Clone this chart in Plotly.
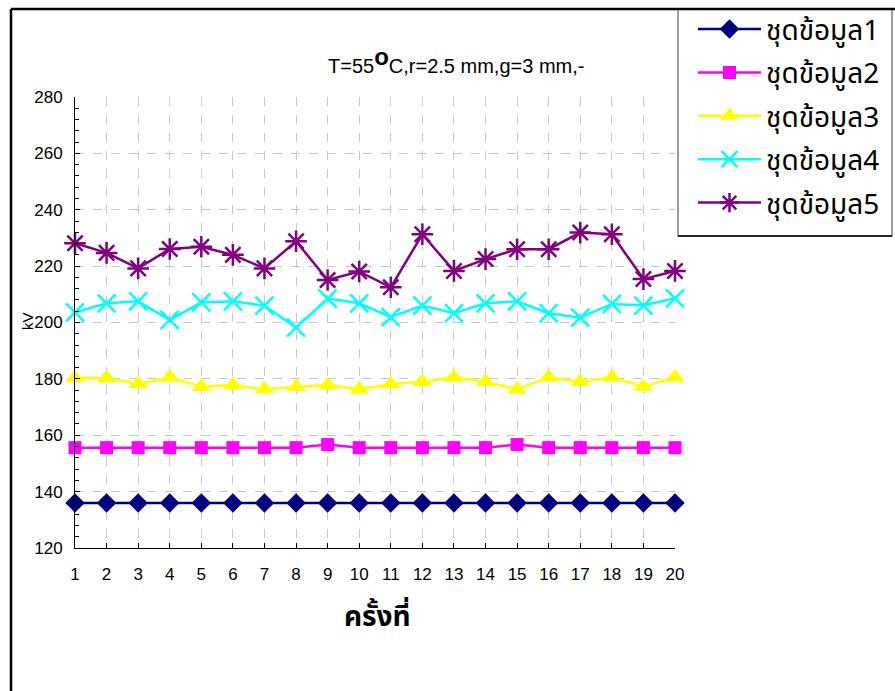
import plotly.graph_objects as go

# Test runs (x axis) and breakdown voltage for five data sets (kV)
runs = list(range(1, 21))
set1 = [136, 136, 136, 136, 136, 136, 136, 136, 136, 136,
        136, 136, 136, 136, 136, 136, 136, 136, 136, 136]
set2 = [155.6, 155.6, 155.6, 155.6, 155.6, 155.6, 155.6, 155.6, 156.7, 155.6,
        155.6, 155.6, 155.6, 155.6, 156.7, 155.6, 155.6, 155.6, 155.6, 155.6]
set3 = [180.3, 180.3, 178.2, 180.6, 177.2, 177.8, 176.3, 177.2, 177.8, 176.3,
        178.2, 179.0, 180.6, 179.0, 176.3, 180.6, 179.0, 180.6, 177.2, 180.6]
set4 = [203.6, 206.8, 207.5, 200.9, 207.1, 207.5, 206.0, 198.2, 208.5, 206.8,
        201.9, 206.0, 203.3, 206.8, 207.5, 203.3, 201.7, 206.6, 206.0, 208.6]
set5 = [228.1, 224.7, 219.2, 226.1, 226.9, 224.0, 219.2, 228.8, 215.1, 218.1,
        212.5, 231.3, 218.3, 222.5, 226.0, 226.0, 231.9, 231.3, 215.4, 218.3]

names = ["ชุดข้อมูล1", "ชุดข้อมูล2", "ชุดข้อมูล3", "ชุดข้อมูล4", "ชุดข้อมูล5"]
y_ticks = [120, 140, 160, 180, 200, 220, 240, 260, 280]

series = [set1, set2, set3, set4, set5]
colors = ["#000080", "#FF00FF", "#FFFF00", "#00FFFF", "#800080"]
symbols = ["diamond", "square", "triangle-up", "x-thin", "asterisk"]
msizes = [15, 13, 17, 18, 18]
lwidths = [2.5, 2.5, 2.5, 2.5, 2.5]

THAI = "Noto Sans Thai, Loma, Garuda, Tahoma, sans-serif"
LATIN = "Liberation Sans Narrow, Arial Narrow, Liberation Sans, Arial, sans-serif"

fig = go.Figure()
for i, (vals, name) in enumerate(zip(series, names)):
    open_sym = symbols[i] in ("x-thin", "asterisk")
    fig.add_trace(go.Scatter(
        x=runs, y=vals, name=name, mode="lines+markers",
        legendgroup=f"g{i}",
        line=dict(color=colors[i], width=lwidths[i]),
        marker=dict(symbol=symbols[i], size=msizes[i], color=colors[i],
                    line=dict(color=colors[i], width=2.5 if open_sym else 0)),
        cliponaxis=False,
    ))

grid = dict(showgrid=True, gridcolor="#c8c8c8", gridwidth=1, griddash="dash")
tickfont = dict(family=LATIN, size=17, color="#000")

fig.update_layout(
    width=895, height=691,
    margin=dict(l=75, r=220, t=97, b=143, autoexpand=False),
    paper_bgcolor="white", plot_bgcolor="white",
    showlegend=True,
    legend=dict(
        x=1.03, y=1.2055, xanchor="left", yanchor="top",
        bgcolor="rgba(0,0,0,0)", borderwidth=0,
        font=dict(family=THAI, size=28, color="#000"),
        itemwidth=63, tracegroupgap=4,
    ),
    xaxis=dict(
        range=[1, 20], tickmode="array", tickvals=runs, ticktext=[str(r) for r in runs],
        ticks="inside", ticklen=5, tickcolor="#000",
        showline=True, linecolor="#000", linewidth=1,
        zeroline=False, tickfont=tickfont, ticklabelstandoff=11,
        **grid,
    ),
    yaxis=dict(
        range=[120, 280], tickmode="array", tickvals=y_ticks,
        ticks="inside", ticklen=5, tickcolor="#000",
        minor=dict(dtick=4, ticks="inside", ticklen=4, tickcolor="#000", showgrid=False),
        showline=True, linecolor="#000", linewidth=1,
        zeroline=False, tickfont=tickfont, ticklabelstandoff=8,
        **grid,
    ),
    shapes=[
        # legend box
        dict(type="rect", xref="paper", yref="paper", layer="below",
             x0=(678 - 75) / 600, x1=(892 - 75) / 600,
             y0=(548 - 236) / 451, y1=(548 - 9) / 451,
             line=dict(color="#808080", width=1.5), fillcolor="white"),
        dict(type="line", xref="paper", yref="paper",
             x0=(678 - 75) / 600, x1=(892 - 75) / 600,
             y0=(548 - 236) / 451, y1=(548 - 236) / 451,
             line=dict(color="#000", width=1.5)),
        # outer chart frame
        dict(type="line", xref="paper", yref="paper",
             x0=(11 - 75) / 600, x1=(920 - 75) / 600,
             y0=(548 - 9) / 451, y1=(548 - 9) / 451,
             line=dict(color="#000", width=2.5)),
        dict(type="line", xref="paper", yref="paper",
             x0=(11 - 75) / 600, x1=(11 - 75) / 600,
             y0=(548 - 9) / 451, y1=(548 - 720) / 451,
             line=dict(color="#000", width=2.5)),
    ],
    annotations=[
        dict(text="T=55<sup><b><span style='font-size:24px'>o</span></b></sup>C,r=2.5 mm,g=3 mm,-",
             xref="paper", yref="paper", x=(456 - 75) / 600, y=(548 - 60) / 451,
             xanchor="center", yanchor="middle", showarrow=False,
             font=dict(family="Liberation Sans, Arial, sans-serif", size=20, color="#000")),
        dict(text="kV", textangle=-90,
             xref="paper", yref="paper", x=(27 - 75) / 600, y=(548 - 321) / 451,
             xanchor="center", yanchor="middle", showarrow=False,
             font=dict(family="Liberation Sans, Arial, sans-serif", size=15, color="#000")),
        dict(text="<b>ครั้งที่</b>",
             xref="paper", yref="paper", x=(377 - 75) / 600, y=(548 - 617) / 451,
             xanchor="center", yanchor="middle", showarrow=False,
             font=dict(family=THAI, size=28, color="#000")),
    ],
)

fig.write_html("out.html")
